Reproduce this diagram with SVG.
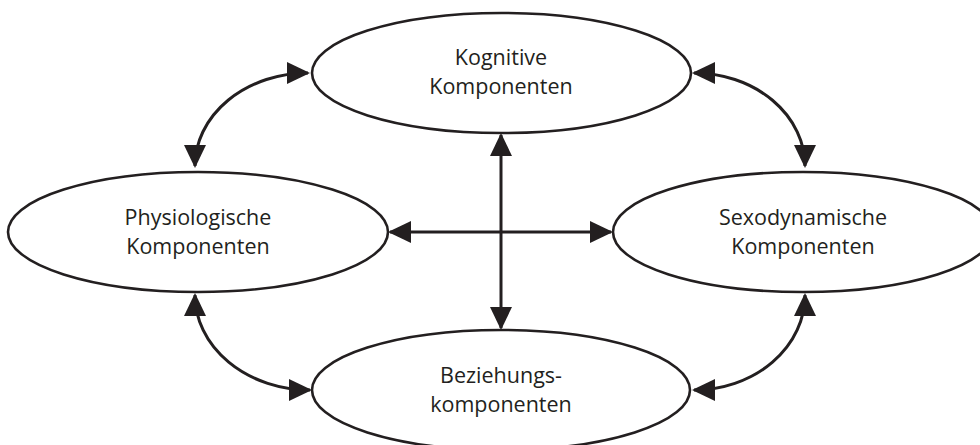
<svg xmlns="http://www.w3.org/2000/svg" width="980" height="445" viewBox="0 0 980 445">
<defs>
<style>
.node{fill:#fff;stroke:#231f20;stroke-width:2.6}
.lbl{font-family:"Open Sans","Noto Sans",sans-serif;font-size:21.5px;fill:#231f20;text-anchor:middle}
.con{fill:none;stroke:#231f20;stroke-width:3;marker-start:url(#ah);marker-end:url(#ah)}
</style>
<marker id="ah" markerUnits="userSpaceOnUse" markerWidth="24" markerHeight="24" refX="21" refY="11" orient="auto-start-reverse">
<path d="M0,0 L23,11 L0,22 z" fill="#231f20"/>
</marker>
</defs>
<rect width="980" height="445" fill="#fff"/>
<g id="connectors">
<path class="con" d="M308,73 A113,93 0 0 0 195,166"/>
<path class="con" d="M694,73 A111,93 0 0 1 805,166"/>
<path class="con" d="M195,295 A115,95 0 0 0 310,390"/>
<path class="con" d="M805,295 A111,95 0 0 1 694,390"/>
<path class="con" d="M501,135 L501,328"/>
<path class="con" d="M390,232 L611,232"/>
</g>
<g id="kognitive">
<ellipse class="node" cx="501.5" cy="73" rx="189.5" ry="60"/>
<text class="lbl" x="501" y="65">Kognitive</text>
<text class="lbl" x="501" y="94">Komponenten</text>
</g>
<g id="physiologische">
<ellipse class="node" cx="198" cy="232" rx="190" ry="60"/>
<text class="lbl" x="198" y="225">Physiologische</text>
<text class="lbl" x="198" y="254">Komponenten</text>
</g>
<g id="sexodynamische">
<ellipse class="node" cx="803" cy="232" rx="190" ry="60"/>
<text class="lbl" x="803" y="225">Sexodynamische</text>
<text class="lbl" x="803" y="254">Komponenten</text>
</g>
<g id="beziehung">
<ellipse class="node" cx="501" cy="390" rx="189" ry="60"/>
<text class="lbl" x="501" y="383">Beziehungs-</text>
<text class="lbl" x="501" y="412">komponenten</text>
</g>
</svg>
